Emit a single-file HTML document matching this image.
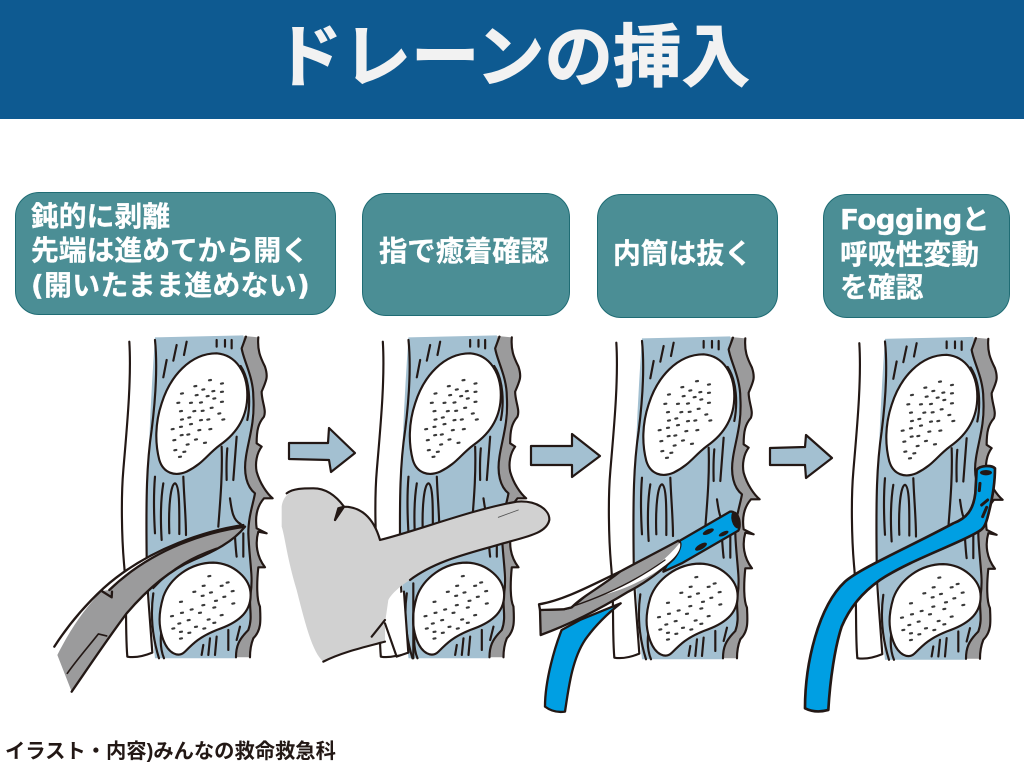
<!DOCTYPE html>
<html lang="ja"><head><meta charset="utf-8"><title>ドレーンの挿入</title>
<style>
html,body{margin:0;padding:0;background:#fff}
#p{position:relative;width:1024px;height:768px;overflow:hidden;background:#fff;font-family:"Liberation Sans","Noto Sans CJK JP",sans-serif;font-weight:700}
#h{position:absolute;left:0;top:0;width:1024px;height:119px;background:#0e5a91}
#t{position:absolute;left:0;top:0;width:1024px;height:104px;line-height:104px;text-align:center;font-size:68.5px;color:#f2f2f2;font-family:"Noto Sans CJK JP",sans-serif;white-space:nowrap;-webkit-text-stroke:1px #f2f2f2}
.b{position:absolute;box-sizing:border-box;background:#4b8e95;border:1px solid #1f6c74;border-radius:24px}
.x{position:absolute;color:#fff;font-size:27.8px;line-height:36px;white-space:nowrap;font-family:"DejaVu Sans","Noto Sans CJK JP",sans-serif;-webkit-text-stroke:.3px #fff}
#f{position:absolute;left:5px;top:738px;font-size:20.3px;line-height:28px;color:#231815;white-space:nowrap}
svg{position:absolute;left:0;top:0;filter:blur(.35px)}
</style></head><body><div id="p">
<svg width="1024" height="768" viewBox="0 0 1024 768" fill="none" stroke-linecap="round" stroke-linejoin="round">
<defs>
<g id="wall" transform="translate(40,330) scale(.3333)" stroke="#231815" stroke-width="6.5">
<path d="M345 22L610 16L640 200L625 400L645 490L630 700L632 800L640 880L610 930L590 985L345 985Q325 800 320 600Q325 300 345 22Z" fill="#a3c0d1" stroke="none"/>
<path d="M612 18L655 22C652 60 660 80 675 110C685 140 680 150 665 185C665 215 680 240 672 260C655 280 650 300 650 340L665 350C650 370 645 400 650 425C660 460 680 490 698 505L672 505C650 530 645 560 650 595L680 610L655 605C645 640 650 680 675 712L655 712C650 760 650 810 660 830C662 870 665 900 640 925C630 950 630 970 630 982L588 982C588 950 595 930 625 900C640 860 625 830 632 790C640 740 628 690 625 610C625 560 640 520 645 490C620 470 610 430 618 380C625 330 645 280 640 200C640 140 610 90 605 55Z" fill="#9b9b9c" stroke="none"/>
<path d="M655 22C652 60 660 80 675 110C685 140 680 150 665 185C665 215 680 240 672 260C655 280 650 300 650 340L665 350C650 370 645 400 650 425C660 460 680 490 698 505L672 505C650 530 645 560 650 595L680 610L655 605C645 640 650 680 675 712L655 712C650 760 650 810 660 830C662 870 665 900 640 925C630 950 630 970 630 982"/>
<path d="M588 982C588 950 595 930 625 900C640 860 625 830 632 790C640 740 628 690 625 610C625 560 640 520 645 490C620 470 610 430 618 380C625 330 645 280 640 200C640 140 610 90 605 55L618 20"/>
<path d="M268 35C275 150 260 300 250 420C243 500 245 620 252 700C262 800 255 900 262 980C290 985 320 975 337 968C325 800 320 760 320 680C318 500 320 400 335 300C350 180 352 100 345 30"/>
<path d="M340 790C330 860 340 930 357 985M365 900C360 930 362 960 372 985M410 45L400 92M440 35L432 75M380 90L370 142M530 30V50M555 30V50M575 30V55M345 440C340 500 342 560 345 610M370 460C360 520 362 580 365 630M388 610C385 530 392 462 405 460C420 465 418 550 418 612M430 440C432 500 438 560 438 615M545 350C548 440 540 520 535 590M562 355C558 400 560 430 560 450M590 320C585 380 582 420 580 450M570 505C575 540 578 570 602 582M585 620C587 650 588 665 590 680M610 610V680M490 945L485 975M510 925L505 975M530 920L525 975M565 900V960M600 890L590 930M602 108C630 150 632 220 622 270"/>
<path d="M530 70C590 75 622 130 622 195C622 260 590 310 540 345C500 375 490 400 440 425C405 440 370 430 358 390C345 340 345 280 365 220C390 140 450 70 530 70Z" fill="#fff"/>
<path d="M520 698C580 700 632 745 632 795C632 850 590 880 530 900C480 920 460 940 435 965C415 985 385 970 370 930C355 890 355 850 370 800C390 745 450 698 520 698Z" fill="#fff"/>
<path stroke-width="6.5" stroke="#3a3a3a" d="M507 151l6-1M543 161l6-1M463 169l6-1M487 179l6-1M517 184l6-1M543 186l6-1M423 191l6-1M467 196l6-1M500 199l6-1M520 206l6-1M543 216l6-1M412 219l6-1M450 219l6-1M480 218l6-1M420 244l6-1M460 244l6-1M512 234l6-1M485 243l6-1M535 251l6-1M445 263l6-1M423 269l6-1M480 271l6-1M502 269l6-1M547 269l6-1M450 283l6-1M420 291l6-1M395 298l6-1M475 301l6-1M508 298l6-1M442 314l6-1M422 316l6-1M400 331l6-1M465 329l6-1M440 344l6-1M492 339l6-1M403 361l6-1M430 366l6-1M417 381l6-1M505 739l6-1M488 768l6-1M542 768l6-1M560 758l6-1M460 786l6-1M510 788l6-1M575 784l6-1M485 798l6-1M550 801l6-1M420 816l6-1M525 813l6-1M487 826l6-1M577 821l6-1M452 839l6-1M423 849l6-1M477 849l6-1M520 833l6-1M542 856l6-1M393 859l6-1M443 871l6-1M415 881l6-1M503 869l6-1M520 879l6-1M465 891l6-1M397 896l6-1M490 896l6-1M445 909l6-1M420 906l6-1M420 926l6-1"/>
</g>
</defs>

<use href="#wall"/>
<use href="#wall" transform="translate(253.5,0)"/>
<use href="#wall" transform="translate(487,1)"/>
<use href="#wall" transform="translate(730,1.5)"/>

<!-- forceps panel 1 -->
<g transform="translate(50,510) scale(.3333)" stroke="#231815" stroke-width="7">
<path d="M580 45C480 60 300 110 160 235C90 300 45 360 13 410L22 435L65 545C110 480 170 390 230 310C290 240 360 180 430 150C490 125 550 95 585 55Z" fill="#fff" stroke="none"/>
<path d="M585 50C480 64 310 112 178 240L155 243C100 300 60 360 22 435L65 545C110 480 170 390 230 310C290 240 360 180 430 150C490 125 550 95 585 50Z" fill="#9b9b9c" stroke="none"/>
<path d="M580 45C480 60 300 110 160 235C90 300 45 360 13 410"/>
<path d="M585 50C480 64 310 112 178 240M155 243L185 262L186 245M65 545C110 480 170 390 230 310C290 240 360 180 430 150C490 125 550 95 585 50"/>
<path d="M52 490C80 450 115 410 145 372L170 378M310 235C370 170 430 140 500 115" stroke-width="5"/>
</g>

<!-- hand panel 2 -->
<g transform="translate(270,330) scale(.3333)" stroke="#231815" stroke-width="6.5">
<path d="M362 800L402 785L415 968L380 975L362 900Z" fill="#fff" stroke="none"/>
<path d="M35 530C40 490 70 475 130 475C170 475 200 500 222 530C270 530 310 560 330 630C450 600 600 540 740 515C800 510 840 540 838 570C830 610 770 620 700 640C600 670 500 690 420 750C395 765 365 790 355 810L345 880L345 935C290 950 220 965 160 995C130 970 110 900 80 780C50 680 45 620 35 590Z" fill="#d1d1d1" stroke="none"/>
<path d="M50 490C70 475 100 475 130 475C170 475 200 500 222 530L195 570C205 545 215 535 222 530C270 530 310 560 330 630C450 600 600 540 740 515C800 510 840 540 838 570C830 610 770 620 700 640C600 670 500 690 420 750"/>
<path d="M195 570L222 530L205 535Z" fill="#231815"/>
<path d="M160 995C220 965 290 950 345 935M305 920L345 870"/>
<path d="M685 562L745 540" stroke-width="2.5" stroke="#555"/>
<path d="M345 880L380 980L415 968M402 785L415 968M430 760V985"/>
</g>

<!-- panel 3 tools -->
<g transform="translate(535,500) scale(.3333)" stroke="#231815" stroke-width="7">
<path d="M585 35L435 122L385 215L440 190L610 92C622 70 605 30 585 35Z" fill="#009fe3"/>
<ellipse cx="603" cy="60" rx="13" ry="26" transform="rotate(-15 603 60)" fill="#231815" stroke="none"/>
<g fill="#231815" stroke="none">
<ellipse cx="520" cy="95" rx="18" ry="7" transform="rotate(-25 520 95)"/>
<ellipse cx="566" cy="101" rx="16" ry="6" transform="rotate(-25 566 101)"/>
<ellipse cx="498" cy="140" rx="20" ry="8" transform="rotate(-30 498 140)"/>
</g>
</g>
<g transform="translate(530,330) scale(.3333)" stroke="#231815" stroke-width="7">
<path d="M95 900C75 950 45 1050 45 1130C65 1145 85 1148 105 1145C115 1080 125 990 165 930C200 880 240 845 272 820L150 870Z" fill="#009fe3"/>
</g>
<g transform="translate(535,500) scale(.3333)" stroke="#231815" stroke-width="7">
<path d="M15 330L85 328L110 322C150 290 200 245 255 215C300 190 370 155 430 122C445 130 430 160 415 178C370 220 320 255 280 275C190 330 100 375 17 405Z" fill="#9b9b9c"/>
<path d="M435 128C440 150 420 175 385 200C340 235 270 268 195 288C270 260 370 210 435 128Z" fill="#fff" stroke="none"/>
<path d="M12 313C90 300 180 250 255 215C200 260 140 290 110 322L85 328L15 330Z" fill="#fff"/>
<path d="M110 320C170 300 280 260 390 180" stroke-width="4"/>
</g>

<!-- panel 4 tube -->
<g transform="translate(760,330) scale(.3333)" stroke="#231815" stroke-width="8">
<path d="M650 420C660 405 695 405 705 415C705 460 697 510 682 565C675 590 668 598 655 605C600 640 450 690 360 750C310 785 270 830 245 890C225 950 210 1050 205 1140C180 1147 155 1145 135 1135C135 1000 175 830 255 755C300 715 450 650 580 580C620 565 640 540 646 490Z" fill="#009fe3"/>
<ellipse cx="678" cy="428" rx="18" ry="8" fill="#231815" stroke="none"/>
<path d="M660 460L658 482M683 510L665 525M680 532L668 560" stroke-width="9"/>
</g>

<!-- arrows -->
<g fill="#a3c0d1" stroke="#231815" stroke-width="2.2">
<path d="M289 443L328 443L329 428L355 453L331 472L329 460L289 459Z"/>
<path d="M531 446L572 446L572 434L600 456L572 477L572 465L531 465Z"/>
<path d="M770 448L805 447L806 435L832 458L806 478L805 465L770 465Z"/>
</g>
</svg>

<div id="h"></div>
<div id="t">ドレーンの挿入</div>

<div class="b" style="left:15px;top:192px;width:321px;height:123px"></div>
<div class="b" style="left:362px;top:193px;width:208px;height:123px"></div>
<div class="b" style="left:597px;top:194px;width:181px;height:124px"></div>
<div class="b" style="left:823px;top:194px;width:187px;height:124px"></div>

<div class="x" style="left:31px;top:199px">鈍的に剥離</div>
<div class="x" style="left:31px;top:233px">先端は進めてから開く</div>
<div class="x" style="left:31px;top:268px;letter-spacing:.4px">(開いたまま進めない)</div>
<div class="x" style="left:379px;top:234px;font-size:28.3px">指で癒着確認</div>
<div class="x" style="left:613px;top:236px">内筒は抜く</div>
<div class="x" style="left:840px;top:202px"><span style="letter-spacing:-.6px">Fogging</span>と</div>
<div class="x" style="left:840px;top:237px">呼吸性変動</div>
<div class="x" style="left:840px;top:270px">を確認</div>

<div id="f">イラスト・内容)みんなの救命救急科</div>
</div></body></html>
